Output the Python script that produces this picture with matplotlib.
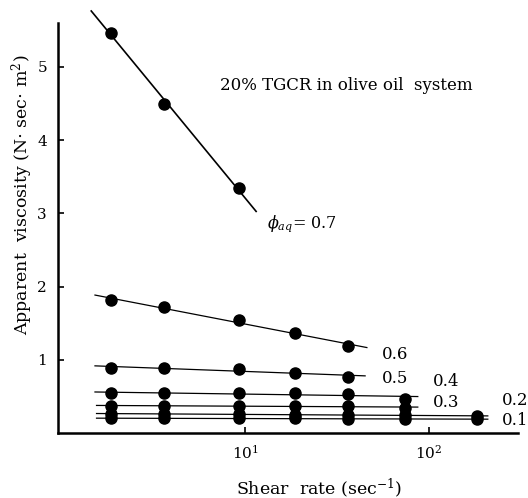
import numpy as np
import matplotlib
matplotlib.use("Agg")
import matplotlib.pyplot as plt

plt.rcParams['font.family'] = ['DejaVu Serif']
plt.rcParams['mathtext.fontset'] = 'dejavuserif'

# ---- data ----
shear_rate = [1.87, 3.65, 9.25, 18.7, 36.5, 74.0, 182.0]
phi_labels = ['0.7', '0.6', '0.5', '0.4', '0.3', '0.2', '0.1']
visc_07 = [5.47, 4.49, 3.34]
visc_06 = [1.81, 1.72, 1.54, 1.36, 1.19]
visc_05 = [0.89, 0.89, 0.87, 0.82, 0.77]
visc_04 = [0.54, 0.55, 0.54, 0.54, 0.53, 0.47]
visc_03 = [0.37, 0.37, 0.37, 0.37, 0.37, 0.34]
visc_02 = [0.26, 0.26, 0.26, 0.25, 0.25, 0.24, 0.23]
visc_01 = [0.20, 0.20, 0.20, 0.20, 0.19, 0.19, 0.19]
# fitted line extents (shear rate range of each drawn line)
line_start = [1.46, 1.53, 1.53, 1.53, 1.56, 1.56, 1.56]
line_end = [11.5, 46.0, 45.0, 87.0, 87.0, 209.0, 209.0]
x_ticks = [10, 100]
y_ticks = [1, 2, 3, 4, 5]

series = [visc_07, visc_06, visc_05, visc_04, visc_03, visc_02, visc_01]

fig = plt.figure(figsize=(5.28, 4.98), dpi=100)
ax = fig.add_axes([58/528, (498-433)/498, 460/528, 410/498])

for i, vals in enumerate(series):
    xs = np.array(shear_rate[:len(vals)])
    ys = np.array(vals)
    k, b = np.polyfit(np.log10(xs), ys, 1)
    xl = np.array([line_start[i], line_end[i]])
    lw = 1.2 if i == 0 else 0.9
    ax.plot(xl, k*np.log10(xl) + b, color='black', lw=lw, zorder=2, clip_on=False)
    ax.plot(xs, ys, 'o', color='black', ms=8, zorder=3, clip_on=False)

ax.set_xscale('log')
ax.set_xlim(0.963, 305)
ax.set_ylim(0, 5.6)
ax.set_xticks(x_ticks)
ax.set_xticklabels([r'$10^{1}$', r'$10^{2}$'])
ax.minorticks_off()
ax.set_yticks(y_ticks)
ax.set_yticklabels([str(v) for v in y_ticks])
ax.tick_params(direction='in', length=4, width=1.2, labelsize=11)
ax.tick_params(axis='y', pad=8)
ax.tick_params(axis='x', pad=8)
for s in ['top', 'right']:
    ax.spines[s].set_visible(False)
for s in ['left', 'bottom']:
    ax.spines[s].set_linewidth(1.8)

ax.set_ylabel(r'Apparent  viscosity (N$\cdot$ sec$\cdot$ m$^{2}$)', fontsize=12.5)
ax.yaxis.set_label_coords(-0.05, 0.58)
ax.set_xlabel(r'Shear  rate (sec$^{-1}$)', fontsize=12.5)
ax.xaxis.set_label_coords(0.567, -0.105)

ax.text(7.3, 4.74, '20% TGCR in olive oil  system', fontsize=12, va='center', ha='left')
ax.text(13.2, 2.86, r'$\phi_{aq}$= 0.7', fontsize=11.5, va='center', ha='left')

label_pos = [(55.6, 1.07), (55.6, 0.75), (105, 0.70), (105, 0.41), (250, 0.45), (250, 0.17)]
for lab, (lx, ly) in zip(phi_labels[1:], label_pos):
    ax.text(lx, ly, lab, fontsize=12, va='center', ha='left', clip_on=False)

fig.savefig('out.png', dpi=100)
